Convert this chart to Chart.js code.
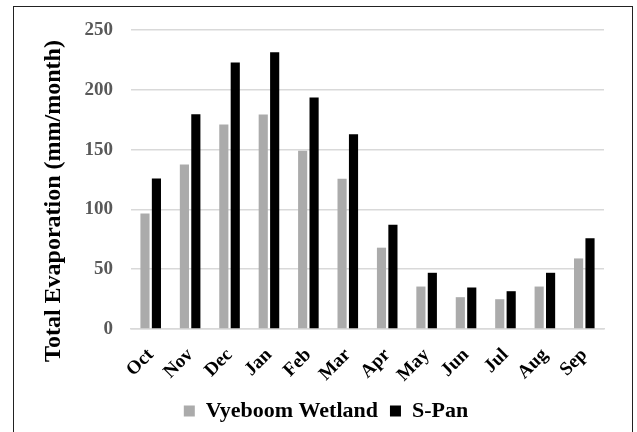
<!DOCTYPE html>
<html>
<head>
<meta charset="utf-8">
<script src="https://cdn.jsdelivr.net/npm/chart.js@4"></script>
<style>
html,body{margin:0;padding:0;background:#fff;width:637px;height:432px;overflow:hidden;}
#frame{position:absolute;left:13px;top:6px;width:620px;height:440px;border:1.5px solid #222;box-sizing:border-box;}
#wrap{position:absolute;left:0;top:0;width:637px;height:432px;}
</style>
</head>
<body>
<div id="frame"></div>
<div id="wrap"><canvas id="c" width="637" height="432"></canvas></div>
<script>
const months = ["Oct","Nov","Dec","Jan","Feb","Mar","Apr","May","Jun","Jul","Aug","Sep"];
const vyeboomWetland = [96.5, 137.6, 170.9, 179.3, 149, 125.6, 68, 35.5, 26.6, 24.9, 35.5, 59];
const sPan = [125.8, 179.5, 222.9, 231.5, 193.5, 162.8, 87.2, 47, 34.7, 31.6, 47, 75.8];
const yTicks = [0, 50, 100, 150, 200, 250];
const yTitle = 'Total Evaporation (mm/month)';

const serif = "'Liberation Serif', 'Times New Roman', serif";

const yTitlePlugin = {
  id: 'yTitlePlugin',
  afterDraw(chart) {
    const ctx = chart.ctx;
    ctx.save();
    ctx.translate(54, 201);
    ctx.rotate(-Math.PI / 2);
    ctx.font = 'bold 24px ' + serif;
    ctx.fillStyle = '#000';
    ctx.textAlign = 'center';
    ctx.textBaseline = 'middle';
    ctx.fillText(yTitle, 0, 0);
    ctx.restore();
  }
};

new Chart(document.getElementById('c'), {
  type: 'bar',
  data: {
    labels: months,
    datasets: [
      {label: 'Vyeboom Wetland', data: vyeboomWetland, backgroundColor: '#ABABAB', borderWidth: 0, barPercentage: 0.8, categoryPercentage: 0.58},
      {label: 'S-Pan', data: sPan, backgroundColor: '#000000', borderWidth: 0, barPercentage: 0.8, categoryPercentage: 0.58}
    ]
  },
  plugins: [yTitlePlugin],
  options: {
    responsive: false,
    animation: false,
    devicePixelRatio: 1,
    layout: {padding: {left: 48, right: 33, top: 30, bottom: 0}},
    plugins: {
      legend: {
        position: 'bottom',
        labels: {font: {family: serif, size: 22, weight: 'bold'}, color: '#000', boxWidth: 11, boxHeight: 11, padding: 12}
      },
      tooltip: {enabled: false}
    },
    scales: {
      x: {
        afterFit: (axis) => { axis.height = 59; },
        grid: {display: false, drawTicks: false},
        border: {display: true, color: '#D9D9D9', width: 1.5},
        ticks: {font: {family: serif, size: 19, weight: 'bold'}, color: '#000', maxRotation: 45, minRotation: 45, padding: 15}
      },
      y: {
        min: 0, max: 250,
        afterBuildTicks: (axis) => { axis.ticks = yTicks.map(v => ({value: v})); },
        afterFit: (axis) => { axis.width = 83; },
        grid: {color: '#D9D9D9', lineWidth: 1.5, drawTicks: false},
        border: {display: false},
        ticks: {font: {family: serif, size: 19, weight: 'bold'}, color: '#595959', padding: 18}
      }
    }
  }
});
</script>
</body>
</html>
